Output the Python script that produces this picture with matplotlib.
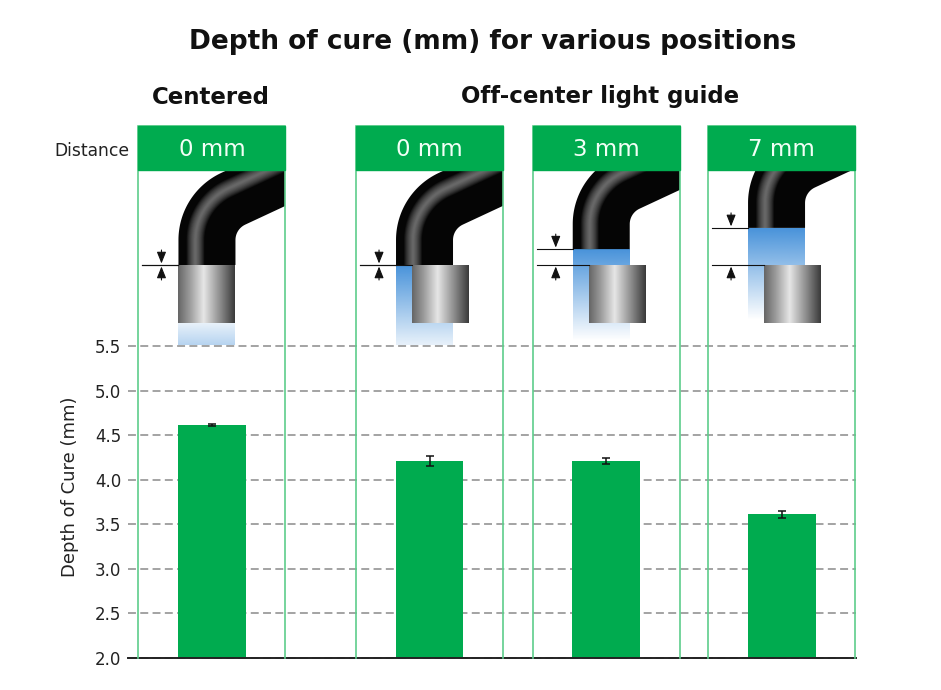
import numpy as np
import matplotlib
matplotlib.use('Agg')
import matplotlib.pyplot as plt
from matplotlib.patches import Rectangle
from matplotlib.colors import LinearSegmentedColormap, to_rgb

plt.rcParams['font.family'] = ['DejaVu Sans']

# ---------------- data ----------------
title = 'Depth of cure (mm) for various positions'
group_labels = ['Centered', 'Off-center light guide']
distance_labels = ['0 mm', '0 mm', '3 mm', '7 mm']
distance_mm = [0, 0, 3, 7]
centered_flags = [True, False, False, False]
depth_of_cure = [4.615, 4.21, 4.21, 3.61]
depth_err = [0.015, 0.06, 0.035, 0.035]
y_ticks = [2.0, 2.5, 3.0, 3.5, 4.0, 4.5, 5.0, 5.5]
y_tick_labels = ['2.0', '2.5', '3.0', '3.5', '4.0', '4.5', '5.0', '5.5']
y_label = 'Depth of Cure (mm)'

# ---------------- style / layout ----------------
GREEN = '#00ab4f'
OUTLINE = '#5dcd8b'
BLUE = '#3f8dd8'
W, H = 941, 690
positions = [0.0, 1.236, 2.24, 3.236]
bar_w = 0.386
col_w = 0.835

fig = plt.figure(figsize=(W / 100, H / 100), dpi=100)
ax = fig.add_axes([128 / W, (H - 658) / H, (856 - 128) / W, (658 - 346) / H])
ax.set_xlim(-0.477, 3.659)
ax.set_ylim(2.0, 5.5)
ax.set_axisbelow(True)
ax.bar(positions, depth_of_cure, width=bar_w, color=GREEN, zorder=3)
ax.errorbar(positions, depth_of_cure, yerr=depth_err, fmt='none', ecolor='#111111',
            elinewidth=1.1, capsize=2.6, capthick=1.1, zorder=4)
ax.set_yticks(y_ticks)
ax.set_yticklabels(y_tick_labels)
ax.set_xticks([])
ax.tick_params(axis='y', length=0, pad=5, labelsize=12, labelcolor='#222222')
ax.yaxis.grid(True, linestyle=(0, (4.4, 2.4)), color='#9c9c9c', lw=1.3, clip_on=False)
for s in ['top', 'left', 'right']:
    ax.spines[s].set_visible(False)
ax.spines['bottom'].set_color('#222222')
ax.spines['bottom'].set_linewidth(1.4)
ax.spines['bottom'].set_zorder(6)

# overlay in pixel coordinates for the decorations
ov = fig.add_axes([0, 0, 1, 1])
ov.axis('off')

bottom_px = H - ax.transData.transform((0, 2.0))[1]
centers = [ax.transData.transform((p, 2.0))[0] for p in positions]
half = ax.transData.transform((positions[0] + col_w / 2, 2.0))[0] - centers[0]

cyl_cmap = LinearSegmentedColormap.from_list(
    'cyl', [(0, '#666666'), (0.2, '#9a9a9a'), (0.45, '#e6e6e6'), (0.75, '#8a8a8a'), (1, '#3a3a3a')])
grad = np.linspace(0, 1, 200)[None, :]


def tube_path(xl, ybot, yarc, R):
    ro = 74.0
    acx = xl + ro
    pts = [(acx - R, ybot), (acx - R, yarc)]
    th = np.radians(np.linspace(180, 115, 40))
    pts += list(zip(acx + R * np.cos(th), yarc - R * np.sin(th)))
    ex, ey = pts[-1]
    d = np.array([np.sin(np.radians(115)), np.cos(np.radians(115))])
    pts.append((ex + 200 * d[0], ey + 200 * d[1]))
    pts = np.array(pts)
    return pts[:, 0], pts[:, 1]


def blue_image(x0, x1, ytop, yend, a0, a1):
    n = 100
    rgb = to_rgb(BLUE)
    img = np.zeros((n, 1, 4))
    img[:, 0, :3] = rgb
    img[:, 0, 3] = np.linspace(a0, a1, n)
    ov.imshow(img, extent=(x0, x1, yend, ytop), aspect='auto', origin='upper',
              interpolation='bilinear', zorder=2)


for cx, lab, gap_mm, centered in zip(centers, distance_labels, distance_mm, centered_flags):
    left, right = cx - half, cx + half
    gap = gap_mm * 5.3
    # column frame (three sides) and header
    ov.plot([left, left, right, right], [bottom_px, 126, 126, bottom_px], color=OUTLINE,
            lw=1.2, zorder=5, solid_joinstyle='miter')
    ov.add_patch(Rectangle((left, 126), right - left, 44, fc=GREEN, ec=GREEN, lw=1.0, zorder=5))
    ov.text(cx, 149, lab, color='#f2fff6', fontsize=16.5, ha='center', va='center', zorder=6)

    clip = Rectangle((left, 170), right - left, bottom_px - 170, transform=ov.transData,
                     fill=False, visible=False)
    ov.add_patch(clip)

    tube_left = cx - 33.5
    cyl_left = tube_left if centered else tube_left + 16
    tube_bot = 265 - gap
    yarc = 240 - gap

    # blue light
    if centered:
        blue_image(cyl_left, cyl_left + 57, 323, 345, 0.12, 0.38)
    else:
        yend = tube_bot + 92
        a1 = 0.0
        if yend > 345:
            a1 = 0.95 * (yend - 345) / 92
            yend = 345
        blue_image(tube_left, tube_left + 57, tube_bot, yend, 0.95, a1)

    # light guide tube
    tx, ty = tube_path(tube_left, tube_bot, yarc, 45.5)
    ln, = ov.plot(tx, ty, color='#050505', lw=57 * 0.72, solid_capstyle='butt',
                  solid_joinstyle='round', zorder=3)
    ln.set_clip_path(clip)
    hx, hy = tube_path(tube_left, tube_bot, yarc, 57.0)
    for lw in np.linspace(18, 1.5, 18):
        hl, = ov.plot(hx, hy, color='#a8a8a8', lw=lw * 0.72, alpha=0.055, solid_capstyle='butt',
                      solid_joinstyle='round', zorder=3.1)
        hl.set_clip_path(clip)

    # cylinder
    ov.imshow(grad, extent=(cyl_left, cyl_left + 57, 323, 265), cmap=cyl_cmap, aspect='auto',
              interpolation='bilinear', zorder=4)

    # dimension marks
    ov.plot([left + 4, tube_left], [tube_bot, tube_bot], color='#111111', lw=0.8, zorder=4.5)
    ov.plot([left + 4, cyl_left], [265, 265], color='#111111', lw=0.8, zorder=4.5)
    axx = left + 23
    ap = dict(arrowstyle='-|>,head_length=0.7,head_width=0.28', color='#111111', lw=0.8,
              shrinkA=0, shrinkB=0)
    ov.annotate('', xy=(axx, tube_bot - 1.5), xytext=(axx, tube_bot - 15), arrowprops=ap, zorder=4.5)
    ov.annotate('', xy=(axx, 266.5), xytext=(axx, 280), arrowprops=ap, zorder=4.5)

# texts
ov.text(493, 42, title, fontsize=19, fontweight='bold', ha='center', va='center', color='#111111')
ov.text(centers[0] - 1, 97, group_labels[0], fontsize=16.5, fontweight='bold', ha='center',
        va='center', color='#111111')
ov.text(600, 97, group_labels[1], fontsize=16.5, fontweight='bold', ha='center', va='center',
        color='#111111')
ov.text(129, 151, 'Distance', fontsize=12.3, ha='right', va='center', color='#222222')
ov.text(70, 487, y_label, fontsize=13, rotation=90, ha='center', va='center', color='#222222')

ov.set_xlim(0, W)
ov.set_ylim(H, 0)

fig.savefig('out.png', dpi=100)
